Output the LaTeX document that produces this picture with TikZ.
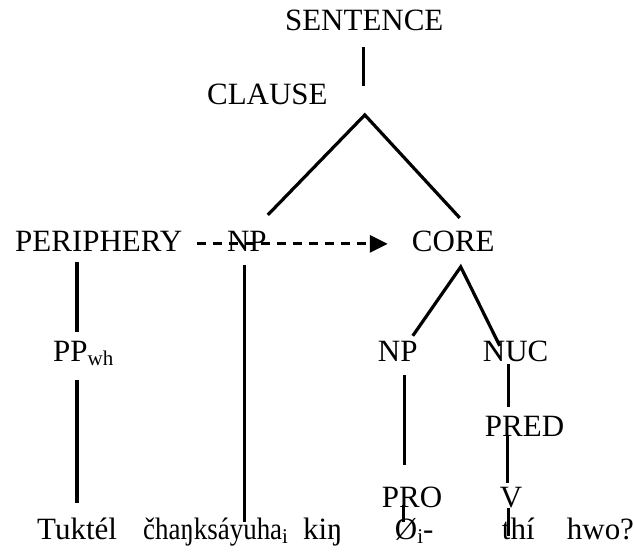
\documentclass[tikz,border=0pt]{standalone}
\usepackage{fontspec}
\setmainfont{Liberation Serif}
\usetikzlibrary{arrows.meta}
\newcommand{\lowidx}[1]{\raisebox{-4pt}{\fontsize{21}{21}\selectfont #1}}
\begin{document}
\begin{tikzpicture}[x=1pt,y=-1pt,
  cat/.style={anchor=base west,inner sep=0pt,font=\fontsize{31}{36}\selectfont},
  branch/.style={line width=3.2pt},
  dashmove/.style={line width=2.8pt,dash pattern=on 9pt off 7pt,-{Triangle[length=18pt,width=17pt]}}]
\fill[white] (0,0) rectangle (634,556);
% Drawing category labels
\node[cat] (sentence) at (285,31) {SENTENCE};
\node[cat] (clause) at (207,105) {CLAUSE};
\node[cat] (periphery) at (15,252) {PERIPHERY};
\node[cat] (npx) at (227,252) {NP};
\node[cat] (core) at (412,252) {CORE};
\node[cat] (ppwh) at (53,362) {PP\lowidx{wh}};
\node[cat] (npc) at (378,362) {NP};
\node[cat] (nuc) at (483,362) {NUC};
\node[cat] (pred) at (485,437) {PRED};
\node[cat] (pro) at (382,508) {PRO};
\node[cat] (verb) at (500,508) {V};
% Drawing the sentence
\node[cat] (w1) at (37,540) {Tuktél};
\node[cat] (w2) at (143,540) {\scalebox{0.87}[1]{čhaŋksáyuha}\lowidx{i}};
\node[cat] (w3) at (303,540) {kiŋ};
\node[cat] (w4) at (395,540) {Ø\lowidx{i}-};
\node[cat] (w5) at (502,540) {thí};
\node[cat] (w6) at (567,540) {hwo?};
% Done with labels; branch points
\coordinate (sentence-foot) at (364,47);
\coordinate (clause-top) at (364,86);
\coordinate (clause-apex) at (365,115);
\coordinate (clause-left) at (268,215);
\coordinate (clause-right) at (460,218);
\coordinate (core-apex) at (461,267);
\coordinate (core-left) at (413,336);
\coordinate (core-right) at (500,346);
\coordinate (periphery-foot) at (77,262);
\coordinate (ppwh-top) at (77,332);
\coordinate (ppwh-foot) at (77,380);
\coordinate (w1-top) at (77,503);
\coordinate (npx-foot) at (245,265);
\coordinate (w2-top) at (245,522);
\coordinate (npc-foot) at (405,375);
\coordinate (pro-top) at (405,465);
\coordinate (pro-foot) at (404,505);
\coordinate (w4-top) at (404,522);
\coordinate (nuc-foot) at (509,364);
\coordinate (pred-top) at (509,407);
\coordinate (pred-foot) at (508,435);
\coordinate (verb-top) at (508,483);
\coordinate (verb-foot) at (509,508);
\coordinate (w5-top) at (509,536);
\coordinate (move-start) at (197,244);
\coordinate (move-end) at (388,244);
% Drawing branches
\draw[branch] (sentence-foot) -- (clause-top);
\draw[branch] (clause-left) -- (clause-apex) -- (clause-right);
\draw[branch] (core-left) -- (core-apex) -- (core-right);
\draw[branch] (periphery-foot) -- (ppwh-top);
\draw[branch] (ppwh-foot) -- (w1-top);
\draw[branch] (npx-foot) -- (w2-top);
\draw[branch] (npc-foot) -- (pro-top);
\draw[branch] (pro-foot) -- (w4-top);
\draw[branch] (nuc-foot) -- (pred-top);
\draw[branch] (pred-foot) -- (verb-top);
\draw[branch] (verb-foot) -- (w5-top);
% Drawing the moved NP
\draw[dashmove] (move-start) -- (move-end);
\end{tikzpicture}
\end{document}
